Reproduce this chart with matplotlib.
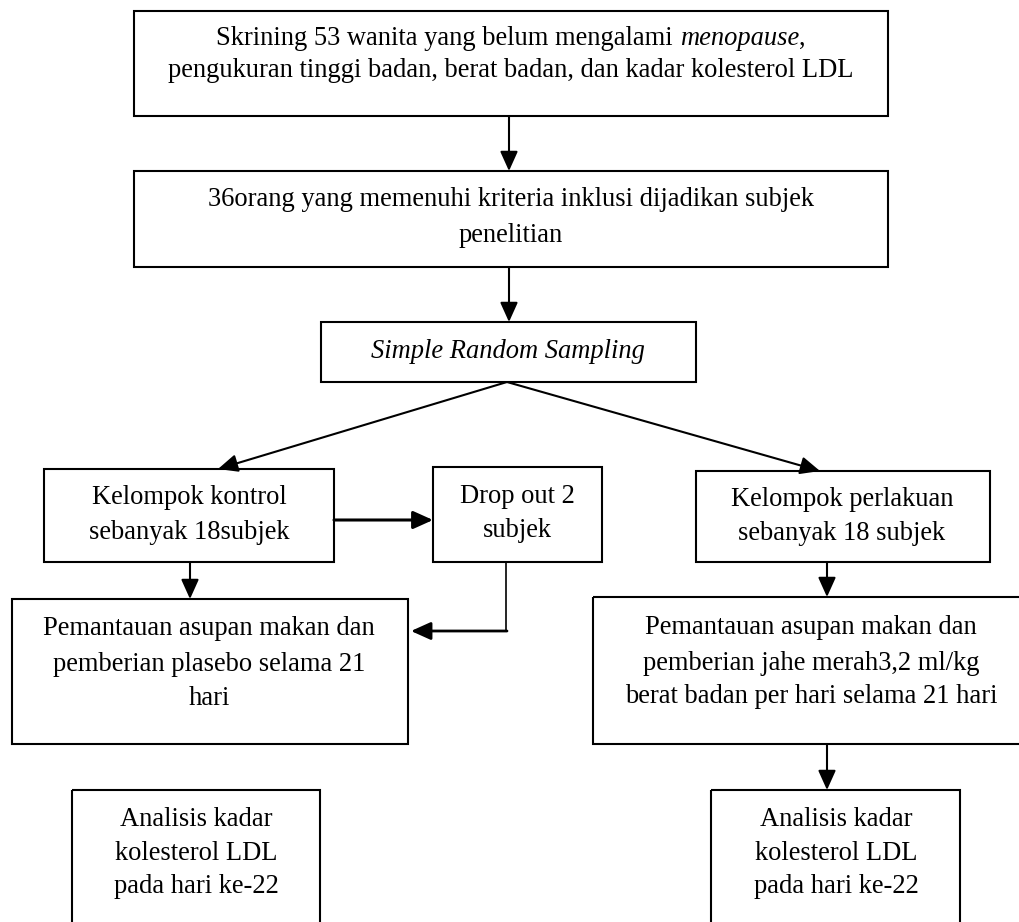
import matplotlib
matplotlib.use("Agg")
import matplotlib.pyplot as plt
from matplotlib.patches import Rectangle, FancyArrowPatch

# ---------------- data (texts of the flowchart) ----------------
box_screen = [[("Skrining 53 wanita yang belum mengalami", "normal"), (" ", "normal"),
               ("menopause", "italic"), (",", "normal")],
              [("pengukuran tinggi badan, berat badan, dan kadar kolesterol LDL", "normal")]]
box_incl = ["36orang yang memenuhi kriteria inklusi dijadikan subjek", "penelitian"]
box_random = ["Simple Random Sampling"]
box_control = ["Kelompok kontrol", "sebanyak 18subjek"]
box_drop = ["Drop out 2", "subjek"]
box_treat = ["Kelompok perlakuan", "sebanyak 18 subjek"]
box_monL = ["Pemantauan asupan makan dan", "pemberian plasebo selama 21", "hari"]
box_monR = ["Pemantauan asupan makan dan", "pemberian jahe merah3,2 ml/kg",
            "berat badan per hari selama 21 hari"]
box_finL = ["Analisis kadar", "kolesterol LDL", "pada hari ke-22"]
box_finR = ["Analisis kadar", "kolesterol LDL", "pada hari ke-22"]

# ---------------- layout (pixels, y downward) ----------------
W, H = 1019, 922
fig = plt.figure(figsize=(W / 100, H / 100), dpi=100)
ax = fig.add_axes([0, 0, 1, 1])
ax.set_xlim(0, W)
ax.set_ylim(H, 0)
ax.axis("off")

FONT = "Liberation Serif"
FS = 19.1
LW = 1.5

def rect(x0, y0, x1, y1):
    ax.add_patch(Rectangle((x0, y0), x1 - x0, y1 - y0, fill=False,
                           edgecolor="black", lw=LW, zorder=2))

def arrow(p0, p1, lw=LW):
    ax.add_patch(FancyArrowPatch(p0, p1, arrowstyle="-|>,head_length=0.6,head_width=0.27",
                                 mutation_scale=20, color="black", lw=lw,
                                 shrinkA=0, shrinkB=0, zorder=3))

def lines(cx, baselines, texts, style="normal"):
    for y, t in zip(baselines, texts):
        ax.text(cx, y, t, ha="center", va="baseline", family=FONT,
                fontsize=FS, style=style)

renderer = fig.canvas.get_renderer()

def width_of(s, style):
    t = ax.text(0, 0, s, family=FONT, fontsize=FS, style=style)
    w = t.get_window_extent(renderer).width
    t.remove()
    return w

def mixed_line(cx, y, segs):
    sp = width_of("x x", "normal") - width_of("xx", "normal")
    widths = [sp if s == " " else width_of(s, st) for s, st in segs]
    x = cx - sum(widths) / 2
    for (s, st), w in zip(segs, widths):
        if s != " ":
            ax.text(x, y, s, ha="left", va="baseline", family=FONT,
                    fontsize=FS, style=st)
        x += w

# boxes
rect(134, 11, 888, 116)
rect(134, 171, 888, 267)
rect(321, 322, 696, 382)
rect(44, 469, 334, 562)
rect(433, 467, 602, 562)
rect(696, 471, 990, 562)
rect(12, 599, 408, 744)
rect(593, 597, 1030, 744)
rect(72, 790, 320, 940)
rect(711, 790, 960, 940)

# texts
for y, segs in zip([45, 77], box_screen):
    mixed_line(511, y, segs)
lines(511, [206, 242], box_incl)
lines(508, [358], box_random, style="italic")
lines(189, [504, 539], box_control)
lines(517, [503, 537], box_drop)
lines(842, [506, 540], box_treat)
lines(209, [635, 671, 705], box_monL)
lines(811, [634, 670, 703], box_monR)
lines(196, [826, 860, 893], box_finL)
lines(836, [826, 860, 893], box_finR)

# arrows
arrow((509, 116), (509, 171))
arrow((509, 267), (509, 322))
arrow((507, 382), (218, 469))
arrow((507, 382), (820, 471))
arrow((334, 520), (433, 520), lw=2.2)
arrow((190, 562), (190, 599))
arrow((827, 562), (827, 597))
arrow((827, 744), (827, 790))
ax.plot([506, 506], [562, 632], color="black", lw=1.2, solid_capstyle="butt")
arrow((507, 631), (411, 631), lw=2.0)

fig.savefig("out.png", dpi=100)
